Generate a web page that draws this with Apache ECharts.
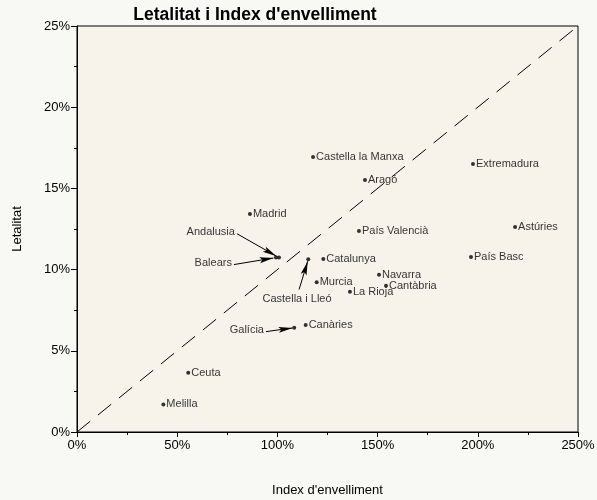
<!DOCTYPE html>
<html>
<head>
<meta charset="utf-8">
<script src="https://cdn.jsdelivr.net/npm/echarts@6/dist/echarts.min.js"></script>
<style>
    html, body { margin: 0; padding: 0; background: #f8f8f4; }
    #chart { width: 597px; height: 500px; }
</style>
</head>
<body>
<div id="chart"></div>
<script>
// regions: [index d'envelliment %, letalitat %]
const names = ['Castella la Manxa', 'Aragó', 'Madrid', 'País Valencià', 'Extremadura', 'Astúries', 'País Basc',
    'Catalunya', 'Murcia', 'La Rioja', 'Navarra', 'Cantàbria', 'Canàries', 'Ceuta', 'Melilla'];
const envelliment = [117.8, 143.7, 86.3, 140.7, 197.6, 218.6, 196.6, 122.9, 119.6, 136.2, 150.7, 154.2, 114.1, 55.5, 43.1];
const letalitat = [16.93, 15.52, 13.42, 12.38, 16.50, 12.62, 10.78, 10.65, 9.22, 8.64, 9.69, 9.01, 6.59, 3.65, 1.70];

// regions labelled with an arrow
const calloutNames = ['Andalusia', 'Balears', 'Castella i Lleó', 'Galícia'];
const calloutEnv = [100.8, 99.3, 115.4, 108.4];
const calloutLet = [10.74, 10.74, 10.63, 6.42];
// where the callout text sits
const textEnv = [79.3, 77.8, 109.8, 93.8];
const textLet = [12.31, 10.41, 8.62, 6.28];
const textPos = ['left', 'left', 'bottom', 'left'];

// diagonal reference
const diagonal = [[0, 0], [250, 25]];

const font = "'Liberation Sans', Arial, sans-serif";
let myChart = echarts.init(document.getElementById('chart'));

let points = names.map((n, i) => [envelliment[i], letalitat[i], n]);
points = points.concat(calloutNames.map((n, i) => ({
    value: [calloutEnv[i], calloutLet[i], n],
    label: { show: false }
})));

let texts = calloutNames.map((n, i) => ({
    value: [textEnv[i], textLet[i], n],
    label: { position: textPos[i] }
}));

// arrow from the text to the dot (stops a little before the dot)
let arrows = calloutNames.map((n, i) => {
    let sx = textEnv[i] + (textPos[i] === 'bottom' ? 1 : 0.5);
    let sy = textLet[i] + (textPos[i] === 'bottom' ? 0.15 : -0.1);
    let ex = calloutEnv[i] - (calloutEnv[i] - sx) * 0.06;
    let ey = calloutLet[i] - (calloutLet[i] - sy) * 0.06;
    return [{ coord: [sx, sy] }, { coord: [ex, ey] }];
});

// arrow head whose tip sits at the centre of the symbol box
const arrowHead = 'path://M5,0 M5,20 L10,40 L5,36 L0,40 Z';

let option = {
    backgroundColor: '#f8f8f4',
    animation: false,
    title: {
        text: "Letalitat i Index d'envelliment",
        left: 250,
        textAlign: 'center',
        top: 1,
        textStyle: { fontFamily: font, fontSize: 17.5, fontWeight: 'bold', color: '#000' }
    },
    grid: {
        left: 77, right: 19, top: 26, bottom: 68,
        outerBoundsMode: 'none',
        show: true,
        backgroundColor: '#f7f3ea',
        borderColor: '#000',
        borderWidth: 1
    },
    xAxis: {
        type: 'value',
        min: 0, max: 250, interval: 50,
        name: "Index d'envelliment",
        nameLocation: 'middle',
        nameGap: 52,
        nameTextStyle: { fontFamily: font, fontSize: 13, color: '#000' },
        axisLine: { lineStyle: { color: '#000' } },
        axisTick: { show: true, length: 5, lineStyle: { color: '#000' } },
        minorTick: { show: true, splitNumber: 2, length: 3, lineStyle: { color: '#000' } },
        splitLine: { show: false },
        axisLabel: { fontFamily: font, fontSize: 13, color: '#000', formatter: '{value}%', margin: 7 }
    },
    yAxis: {
        type: 'value',
        min: 0, max: 25, interval: 5,
        name: 'Letalitat',
        nameLocation: 'middle',
        nameGap: 53,
        nameRotate: 90,
        nameTextStyle: { fontFamily: font, fontSize: 13, color: '#000' },
        axisLine: { show: true, lineStyle: { color: '#000' } },
        axisTick: { show: true, length: 6, lineStyle: { color: '#000' } },
        minorTick: { show: true, splitNumber: 2, length: 3, lineStyle: { color: '#000' } },
        splitLine: { show: false },
        axisLabel: { fontFamily: font, fontSize: 13, color: '#000', formatter: '{value}%', margin: 7 }
    },
    series: [
        {
            type: 'line',
            data: diagonal,
            symbol: 'none',
            silent: true,
            lineStyle: { color: '#000', width: 1, type: [17, 10] }
        },
        {
            type: 'scatter',
            data: points,
            symbolSize: 4,
            itemStyle: { color: '#000' },
            label: {
                show: true,
                position: 'right',
                distance: 1,
                formatter: p => p.value[2],
                fontFamily: font, fontSize: 11, color: '#000'
            }
        },
        {
            type: 'scatter',
            data: texts,
            symbolSize: 0,
            silent: true,
            label: {
                show: true,
                distance: 1,
                formatter: p => p.value[2],
                fontFamily: font, fontSize: 11, color: '#000'
            },
            markLine: {
                silent: true,
                symbol: ['none', arrowHead],
                symbolSize: [6, 28],
                label: { show: false },
                lineStyle: { color: '#000', width: 1, type: 'solid' },
                data: arrows
            }
        }
    ]
};
myChart.setOption(option);
</script>
</body>
</html>
